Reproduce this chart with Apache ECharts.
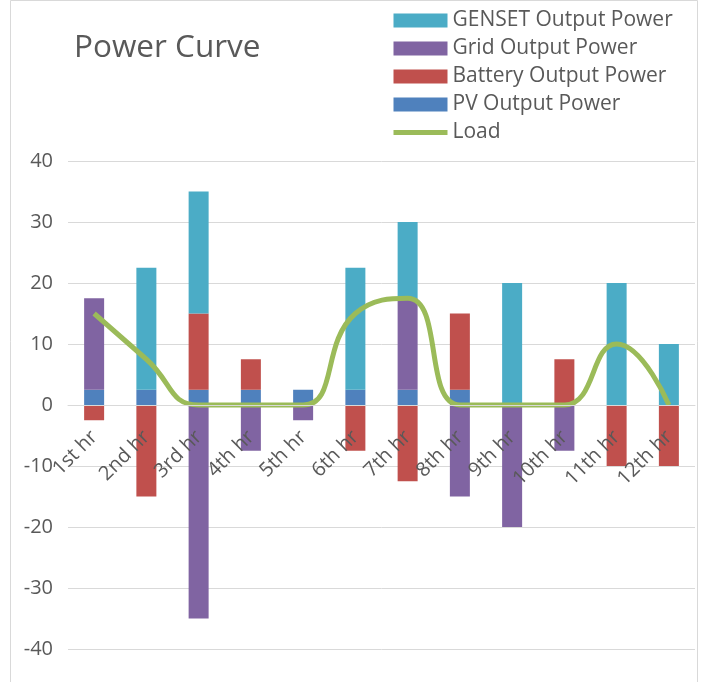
<!DOCTYPE html>
<html>
<head>
<meta charset="utf-8">
<script src="https://cdn.jsdelivr.net/npm/echarts@6/dist/echarts.min.js"></script>
<style>
html,body{margin:0;padding:0;background:#fff;}
#c{width:705px;height:682px;}
</style>
</head>
<body>
<div id="c"></div>
<script>
var categories = ['1st hr','2nd hr','3rd hr','4th hr','5th hr','6th hr','7th hr','8th hr','9th hr','10th hr','11th hr','12th hr'];
var pvOutput      = [2.5, 2.5, 2.5, 2.5, 2.5, 2.5, 2.5, 2.5, 0, 0, 0, 0];
var batteryOutput = [-2.5, -15, 12.5, 5, 0, -7.5, -12.5, 12.5, 0, 7.5, -10, -10];
var gridOutput    = [15, 0, -35, -7.5, -2.5, 0, 15, -15, -20, -7.5, 0, 0];
var gensetOutput  = [0, 20, 20, 0, 0, 20, 12.5, 0, 20, 0, 20, 10];
var loadValues    = [15, 7.5, 0, 0, 0, 15, 17.5, 0, 0, 0, 10, 0];
var yTicks = {min: -40, max: 40, interval: 10};

var FONT = '"Open Sans", "Noto Sans", sans-serif';
var TXT = '#595959';
var GRID_TOP = 161, GRID_BOTTOM = 33, CHART_H = 682;
// the category axis sits at value 0, i.e. the middle of the symmetric plot area
var zeroOffset = -(CHART_H - GRID_TOP - GRID_BOTTOM) / 2;

var chart = echarts.init(document.getElementById('c'), null, {renderer: 'canvas'});
function barSeries(name, data, color) {
  return {
    name: name, type: 'bar', stack: 'p', data: data,
    barWidth: 20,
    itemStyle: {color: color},
    emphasis: {disabled: true}
  };
}
chart.setOption({
  animation: false,
  backgroundColor: '#fff',
  textStyle: {fontFamily: FONT},
  title: {
    text: 'Power Curve', left: 69, top: 26,
    textStyle: {fontSize: 31.5, fontWeight: 'normal', color: TXT, fontFamily: FONT, lineHeight: 34}
  },
  legend: {
    orient: 'vertical', left: 386, top: 5,
    itemWidth: 54, itemHeight: 14, itemGap: 7,
    textStyle: {fontSize: 21, color: TXT, fontFamily: FONT, lineHeight: 20},
    data: [
      {name: 'GENSET Output Power', icon: 'rect'},
      {name: 'Grid Output Power', icon: 'rect'},
      {name: 'Battery Output Power', icon: 'rect'},
      {name: 'PV Output Power', icon: 'rect'},
      {name: 'Load', itemStyle: {opacity: 0}, lineStyle: {width: 5, color: '#9BBB59'}}
    ]
  },
  grid: {left: 68, right: 10, top: GRID_TOP, bottom: GRID_BOTTOM, containLabel: false, outerBoundsMode: 'none'},
  xAxis: {
    type: 'category', data: categories,
    position: 'bottom', offset: zeroOffset,
    axisLine: {show: true, onZero: false, lineStyle: {color: '#D9D9D9', width: 1}},
    axisTick: {show: false},
    axisLabel: {rotate: 45, fontSize: 20, color: TXT, fontFamily: FONT, margin: 29, interval: 0},
    splitLine: {show: false},
    z: 6
  },
  yAxis: {
    type: 'value', min: yTicks.min, max: yTicks.max, interval: yTicks.interval,
    axisLine: {show: false}, axisTick: {show: false},
    axisLabel: {fontSize: 20, color: TXT, fontFamily: FONT, margin: 15},
    splitLine: {lineStyle: {color: '#D9D9D9', width: 1}}
  },
  graphic: [{
    type: 'rect', shape: {x: 10.5, y: 0.5, width: 687, height: 700},
    style: {fill: 'none', stroke: '#D9D9D9', lineWidth: 1}, silent: true, z: -1
  }],
  series: [
    barSeries('PV Output Power', pvOutput, '#4F81BD'),
    barSeries('Battery Output Power', batteryOutput, '#C0504D'),
    barSeries('Grid Output Power', gridOutput, '#8064A2'),
    barSeries('GENSET Output Power', gensetOutput, '#4BACC6'),
    {
      name: 'Load', type: 'line', data: loadValues, smooth: 0.5,
      symbol: 'none', z: 5,
      lineStyle: {color: '#9BBB59', width: 5},
      itemStyle: {color: '#9BBB59'},
      emphasis: {disabled: true}
    }
  ]
});
</script>
</body>
</html>
